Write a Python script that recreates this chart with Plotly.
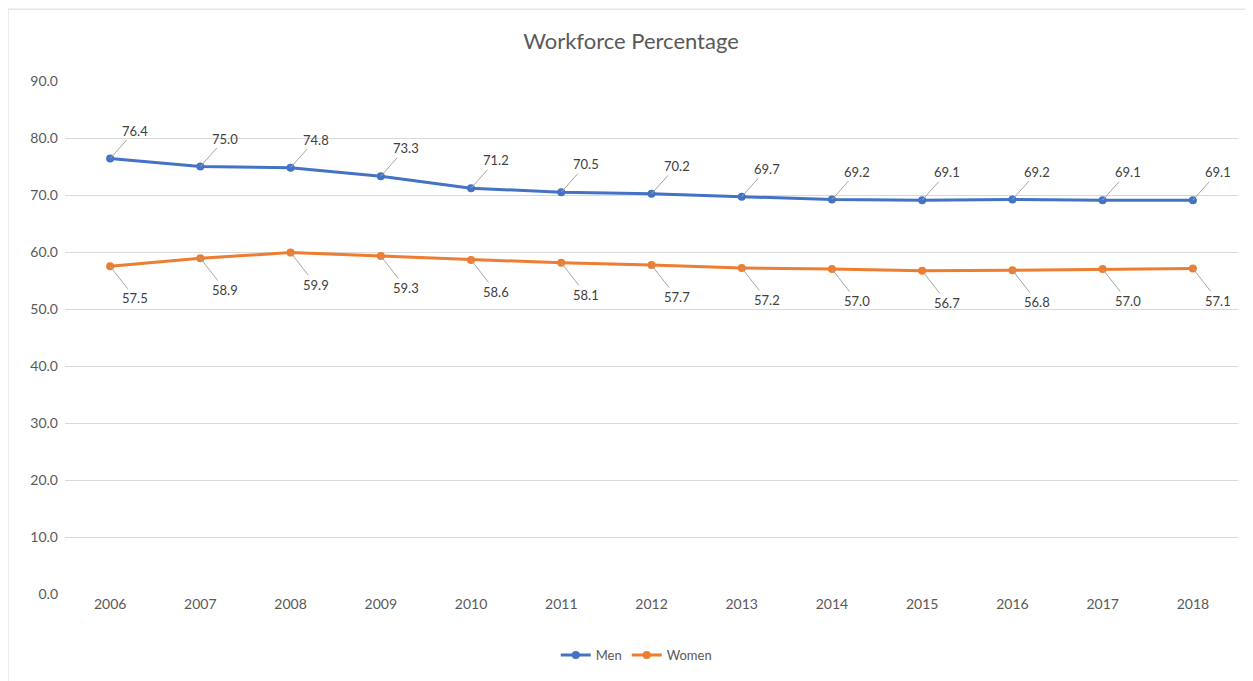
import plotly.graph_objects as go

years = ["2006", "2007", "2008", "2009", "2010", "2011", "2012",
         "2013", "2014", "2015", "2016", "2017", "2018"]
men = [76.4, 75.0, 74.8, 73.3, 71.2, 70.5, 70.2, 69.7, 69.2, 69.1, 69.2, 69.1, 69.1]
women = [57.5, 58.9, 59.9, 59.3, 58.6, 58.1, 57.7, 57.2, 57.0, 56.7, 56.8, 57.0, 57.1]

FONT = "Lato, 'Open Sans', sans-serif"
TXT = "#595959"

fig = go.Figure()
fig.add_trace(go.Scatter(x=years, y=men, name="Men", mode="lines+markers",
                         line=dict(color="#4472C4", width=3),
                         marker=dict(size=8, color="#4472C4")))
fig.add_trace(go.Scatter(x=years, y=women, name="Women", mode="lines+markers",
                         line=dict(color="#ED7D31", width=3),
                         marker=dict(size=8, color="#ED7D31")))

# data labels with leader lines (category index, since "2006" would be read as a position)
for i, v in enumerate(men):
    fig.add_annotation(x=i, y=v, text=f"{v:.1f}", showarrow=True, arrowhead=0,
                       arrowwidth=1, arrowcolor="#a6a6a6", ax=25, ay=-28,
                       font=dict(size=13, color="#404040", family=FONT))
for i, v in enumerate(women):
    fig.add_annotation(x=i, y=v, text=f"{v:.1f}", showarrow=True, arrowhead=0,
                       arrowwidth=1, arrowcolor="#a6a6a6", ax=25, ay=32,
                       font=dict(size=13, color="#404040", family=FONT))

# chart border: only the top and left edges show in the reference
fig.add_shape(type="line", xref="paper", yref="paper",
              x0=-0.0486, x1=1.02, y0=1.140, y1=1.140,
              line=dict(color="#d9d9d9", width=1))
fig.add_shape(type="line", xref="paper", yref="paper",
              x0=-0.0486, x1=-0.0486, y0=-0.2, y1=1.140,
              line=dict(color="#d9d9d9", width=1))

fig.update_layout(
    width=1245, height=673,
    margin=dict(l=57, r=15, t=73, b=87, autoexpand=False),
    paper_bgcolor="white", plot_bgcolor="white",
    font=dict(family=FONT, size=13, color=TXT),
    title=dict(text="Workforce Percentage", x=0.5004, y=0.951, xanchor="center",
               yanchor="middle", font=dict(size=22, color=TXT, family=FONT)),
    showlegend=True,
    legend=dict(orientation="h", x=0.487, y=-0.119, xanchor="center",
                yanchor="middle", font=dict(size=13, color=TXT)),
    xaxis=dict(type="category", range=[-0.5, 12.5], showgrid=False,
               showline=False, ticks="", automargin=False,
               tickfont=dict(size=14, color=TXT)),
    yaxis=dict(range=[0, 90], dtick=10, tickformat=".1f", showgrid=True,
               gridcolor="#d9d9d9", gridwidth=1, zeroline=False,
               showline=False, ticks="", ticklabelstandoff=6, automargin=False,
               tickfont=dict(size=14, color=TXT)),
)

fig.write_html("out.html")
